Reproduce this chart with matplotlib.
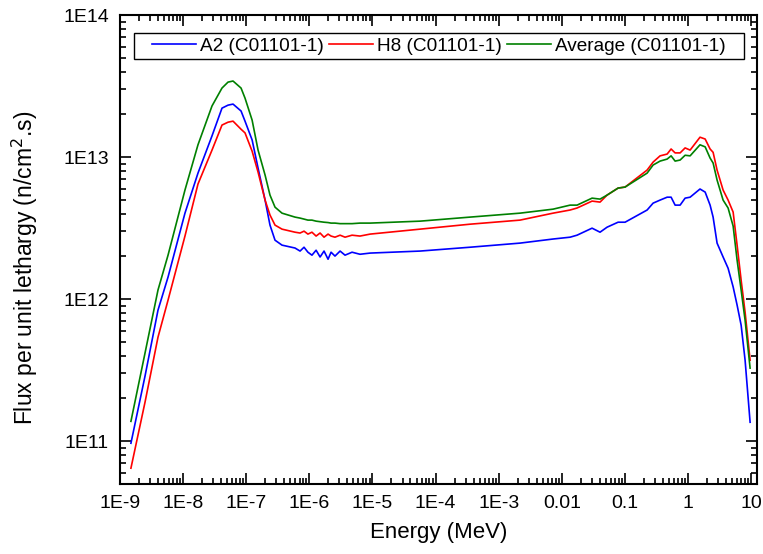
import matplotlib
matplotlib.use("Agg")
import matplotlib.pyplot as plt
from matplotlib.patches import Rectangle
from matplotlib.ticker import FixedLocator, FixedFormatter, LogLocator, NullFormatter

plt.rcParams['font.family'] = ['Liberation Sans', 'DejaVu Sans']

energy = [1.49e-9, 2.49e-9, 4.0e-9, 5.77e-9, 1.07e-8, 1.72e-8, 2.87e-8, 4.13e-8, 5.15e-8, 6.18e-8,
          8.28e-8, 9.57e-8, 1.24e-7, 1.54e-7, 1.99e-7, 2.38e-7, 2.86e-7, 3.69e-7,
          5.93e-7, 7.13e-7, 8.24e-7, 9.5e-7, 1.10e-6, 1.28e-6, 1.48e-6, 1.71e-6, 1.98e-6, 2.21e-6,
          2.55e-6, 3.07e-6, 3.68e-6, 4.75e-6, 6.35e-6, 9.2e-6,
          5.68e-5, 3.52e-4, 2.18e-3, 7.28e-3, 0.01355, 0.01746, 0.0302, 0.0404,
          0.0522, 0.078, 0.1007, 0.225, 0.28, 0.361, 0.467, 0.54, 0.625, 0.75,
          0.90, 1.08, 1.55, 1.87, 2.24, 2.50, 2.89, 3.60, 4.32, 5.19,
          6.0, 6.95, 8.03, 9.64]

flux_a2 = [9.68e10, 2.87e11, 8.37e11, 1.43e12, 4.03e12, 7.71e12, 1.41e13, 2.21e13, 2.32e13, 2.36e13,
           2.11e13, 1.79e13, 1.32e13, 8.37e12, 4.98e12, 3.32e12, 2.60e12, 2.40e12,
           2.29e12, 2.18e12, 2.32e12, 2.14e12, 2.04e12, 2.21e12, 1.98e12, 2.18e12, 1.91e12, 2.14e12,
           2.01e12, 2.18e12, 2.04e12, 2.14e12, 2.07e12, 2.11e12,
           2.18e12, 2.32e12, 2.48e12, 2.65e12, 2.73e12, 2.82e12, 3.16e12, 2.96e12,
           3.21e12, 3.48e12, 3.48e12, 4.24e12, 4.74e12, 4.98e12, 5.22e12, 5.22e12, 4.59e12, 4.59e12,
           5.14e12, 5.22e12, 5.96e12, 5.67e12, 4.59e12, 3.78e12, 2.48e12, 1.98e12, 1.65e12, 1.22e12,
           9.08e11, 6.56e11, 3.72e11, 1.36e11]

flux_h8 = [6.46e10, 1.88e11, 5.40e11, 9.84e11, 2.78e12, 6.46e12, 1.12e13, 1.68e13, 1.76e13, 1.79e13,
           1.57e13, 1.48e13, 1.10e13, 7.84e12, 4.98e12, 3.91e12, 3.32e12, 3.11e12,
           2.96e12, 2.92e12, 3.01e12, 2.87e12, 2.96e12, 2.78e12, 2.92e12, 2.73e12, 2.87e12, 2.78e12,
           2.73e12, 2.82e12, 2.73e12, 2.82e12, 2.78e12, 2.87e12,
           3.11e12, 3.37e12, 3.60e12, 4.03e12, 4.24e12, 4.38e12, 4.90e12, 4.82e12,
           5.40e12, 6.05e12, 6.15e12, 8.10e12, 9.22e12, 1.02e13, 1.05e13, 1.14e13, 1.07e13, 1.07e13,
           1.16e13, 1.12e13, 1.38e13, 1.34e13, 1.14e13, 1.08e13, 8.10e12, 5.86e12, 4.98e12, 4.10e12,
           2.40e12, 1.36e12, 8.10e11, 3.72e11]

flux_avg = [1.38e11, 4.17e11, 1.16e12, 2.04e12, 5.86e12, 1.22e13, 2.29e13, 3.06e13, 3.37e13, 3.43e13,
            3.06e13, 2.60e13, 1.82e13, 1.12e13, 7.47e12, 5.40e12, 4.44e12, 4.03e12,
            3.78e12, 3.72e12, 3.66e12, 3.60e12, 3.60e12, 3.54e12, 3.51e12, 3.48e12, 3.46e12, 3.43e12,
            3.43e12, 3.40e12, 3.40e12, 3.40e12, 3.43e12, 3.43e12,
            3.54e12, 3.78e12, 4.03e12, 4.30e12, 4.59e12, 4.59e12, 5.14e12, 5.06e12,
            5.40e12, 6.05e12, 6.15e12, 7.71e12, 8.79e12, 9.37e12, 9.68e12, 1.02e13, 9.37e12, 9.53e12,
            1.03e13, 1.02e13, 1.22e13, 1.18e13, 9.84e12, 9.08e12, 6.89e12, 4.98e12, 4.38e12, 3.27e12,
            1.88e12, 1.16e12, 7.11e11, 3.27e11]

series_labels = ["A2 (C01101-1)", "H8 (C01101-1)", "Average (C01101-1)"]
series_colors = ["#0000ff", "#ff0000", "#008000"]

x_ticks = [1e-9, 1e-8, 1e-7, 1e-6, 1e-5, 1e-4, 1e-3, 1e-2, 1e-1, 1, 10]
x_ticklabels = ["1E-9", "1E-8", "1E-7", "1E-6", "1E-5", "1E-4", "1E-3", "0.01", "0.1", "1", "10"]
y_ticks = [1e11, 1e12, 1e13, 1e14]
y_ticklabels = ["1E11", "1E12", "1E13", "1E14"]

W, H = 763, 554
fig = plt.figure(figsize=(W / 100, H / 100), dpi=100)
ax = fig.add_axes([120 / W, 1 - 484 / H, (757 - 120) / W, (484 - 15) / H])

for flux, lab, col in zip([flux_a2, flux_h8, flux_avg], series_labels, series_colors):
    ax.plot(energy, flux, color=col, lw=1.2, label=lab)

ax.set_xscale('log')
ax.set_yscale('log')
ax.set_xlim(1e-9, 12.4)
ax.set_ylim(5e10, 1e14)

ax.xaxis.set_major_locator(FixedLocator(x_ticks))
ax.xaxis.set_major_formatter(FixedFormatter(x_ticklabels))
ax.xaxis.set_minor_locator(LogLocator(base=10, subs=range(2, 10), numticks=50))
ax.xaxis.set_minor_formatter(NullFormatter())
ax.yaxis.set_major_locator(FixedLocator(y_ticks))
ax.yaxis.set_major_formatter(FixedFormatter(y_ticklabels))
ax.yaxis.set_minor_locator(LogLocator(base=10, subs=range(2, 10), numticks=50))
ax.yaxis.set_minor_formatter(NullFormatter())

ax.tick_params(which='both', direction='in', top=True, right=True, labelsize=14, width=1.2)
ax.tick_params(which='major', length=8, pad=8)
ax.tick_params(which='minor', length=4)
for s in ax.spines.values():
    s.set_linewidth(1.5)

ax.set_xlabel("Energy (MeV)", fontsize=16, labelpad=7)
fig.text(25 / W, 1 - 268 / H, "Flux per unit lethargy (n/cm$^2$.s)", fontsize=16.5,
         rotation=90, ha='center', va='center')

leg = ax.legend(loc='center', bbox_to_anchor=(439 / W, 1 - 46 / H), bbox_transform=fig.transFigure,
                ncol=3, fontsize=13.7, frameon=False, handlelength=2.3,
                handletextpad=0.2, columnspacing=0.3, borderpad=0.2)
frame = Rectangle((134 / W, 1 - 59 / H), (744 - 134) / W, (59 - 33) / H,
                  transform=fig.transFigure, fill=False, edgecolor='black', linewidth=1.0, zorder=10)
fig.patches.append(frame)

fig.savefig("out.png", dpi=100)
